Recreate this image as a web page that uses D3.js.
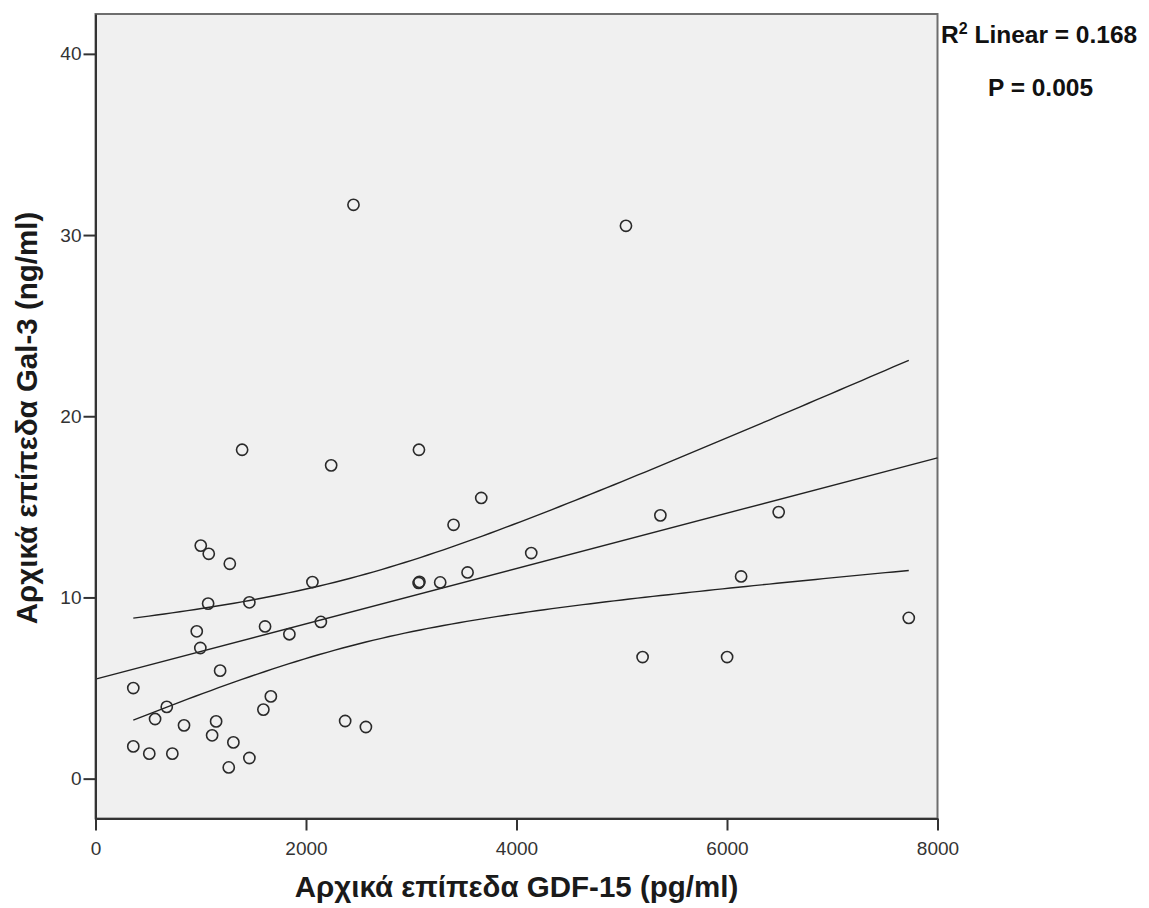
<!DOCTYPE html>
<html><head><meta charset="utf-8">
<script src="https://cdn.jsdelivr.net/npm/d3@7"></script>
<style>body{margin:0;background:#fff}svg{display:block}</style>
</head><body>
<svg id="c" width="1149" height="908"></svg>
<script>
const gdf15 = [2451,5040,1393,3073,2239,3665,3402,5367,6491,1000,1076,1276,4140,6134,3535,3275,3070,3078,2061,1070,1462,7727,962,996,1611,1842,2141,1184,5198,6001,359,677,566,841,1146,1666,1595,2372,2569,359,511,730,1108,1310,1266,1462];
const gal3  = [31.67,30.51,18.15,18.15,17.29,15.49,14.01,14.53,14.71,12.86,12.41,11.86,12.45,11.16,11.38,10.83,10.80,10.86,10.85,9.66,9.73,8.87,8.13,7.21,8.40,7.97,8.65,5.96,6.71,6.71,5.00,3.96,3.29,2.94,3.16,4.54,3.81,3.18,2.85,1.78,1.38,1.38,2.39,2.00,0.62,1.14];
const xTicks = [0,2000,4000,6000,8000];
const yTicks = [0,10,20,30,40];
const xTitle = "Αρχικά επίπεδα GDF-15 (pg/ml)";
const yTitle = "Αρχικά επίπεδα Gal-3 (ng/ml)";
const r2Label = "0.168";
const pLabel = "P = 0.005";

const FONT = "Liberation Sans, Arial, sans-serif";
const svg = d3.select("#c");
const L=95.5, R=937.5, T=14, B=818.5;
const x = d3.scaleLinear().domain([0,8000]).range([L,R]);
const y = d3.scaleLinear().domain([-2.2,42.2]).range([B,T]);

svg.append("rect").attr("x",L).attr("y",T).attr("width",R-L).attr("height",B-T)
  .attr("fill","#f0f0f0").attr("stroke","#6e6e6e").attr("stroke-width",2);

// regression
const n = gdf15.length;
const mx = d3.mean(gdf15), my = d3.mean(gal3);
let sxx=0, sxy=0;
for(let i=0;i<n;i++){ sxx+=(gdf15[i]-mx)**2; sxy+=(gdf15[i]-mx)*(gal3[i]-my); }
const b = sxy/sxx, a = my - b*mx;
let sse=0; for(let i=0;i<n;i++){ sse += (gal3[i]-a-b*gdf15[i])**2; }
const s = Math.sqrt(sse/(n-2));
const tcrit = 2.015;
const xmin = d3.min(gdf15), xmax = d3.max(gdf15);
const grid = d3.range(0,101).map(k=>xmin+(xmax-xmin)*k/100);
const line = d3.line().x(d=>x(d[0])).y(d=>y(d[1]));
const hw = xv => tcrit*s*Math.sqrt(1/n + (xv-mx)**2/sxx);
const g = svg.append("g").attr("fill","none").attr("stroke","#222").attr("stroke-width",1.4);
g.append("path").attr("d", line([[0,a],[8000,a+b*8000]]));
g.append("path").attr("d", line(grid.map(v=>[v,a+b*v+hw(v)])));
g.append("path").attr("d", line(grid.map(v=>[v,a+b*v-hw(v)])));

// points
svg.append("g").selectAll("circle").data(gdf15.map((v,i)=>[v,gal3[i]])).join("circle")
  .attr("cx",d=>x(d[0])).attr("cy",d=>y(d[1])).attr("r",5.6)
  .attr("fill","none").attr("stroke","#2a2a2a").attr("stroke-width",1.6);

// axes
const xa = svg.append("g").attr("transform",`translate(0,${B})`)
  .call(d3.axisBottom(x).tickValues(xTicks).tickSize(12).tickSizeOuter(0).tickPadding(11).tickFormat(d3.format("d")));
const ya = svg.append("g").attr("transform",`translate(${L},0)`)
  .call(d3.axisLeft(y).tickValues(yTicks).tickSize(12).tickSizeOuter(0).tickPadding(2).tickFormat(d3.format("d")));
[xa,ya].forEach(ax=>{
  ax.select(".domain").attr("stroke","#333").attr("stroke-width",2);
  ax.selectAll(".tick line").attr("stroke","#333").attr("stroke-width",2);
  ax.selectAll(".tick text").attr("fill","#333").style("font-family",FONT).style("font-size","19px");
});

svg.append("text").attr("x",516.5).attr("y",897).attr("text-anchor","middle")
  .style("font-family",FONT).style("font-size","29.5px").style("font-weight","bold")
  .attr("fill","#1a1a1a").text(xTitle);
svg.append("text").attr("transform","translate(37,418) rotate(-90)").attr("text-anchor","middle")
  .style("font-family",FONT).style("font-size","29.5px").style("font-weight","bold")
  .attr("fill","#1a1a1a").text(yTitle);

const t1 = svg.append("text").attr("x",941).attr("y",43)
  .style("font-family",FONT).style("font-size","24.5px").style("font-weight","bold").attr("fill","#111");
t1.append("tspan").text("R");
t1.append("tspan").attr("dy",-9).style("font-size","16px").text("2");
t1.append("tspan").attr("dy",9).text(" Linear = "+r2Label);
svg.append("text").attr("x",1040.5).attr("y",96).attr("text-anchor","middle")
  .style("font-family",FONT).style("font-size","24.5px").style("font-weight","bold").attr("fill","#111")
  .text(pLabel);
</script>
</body></html>
